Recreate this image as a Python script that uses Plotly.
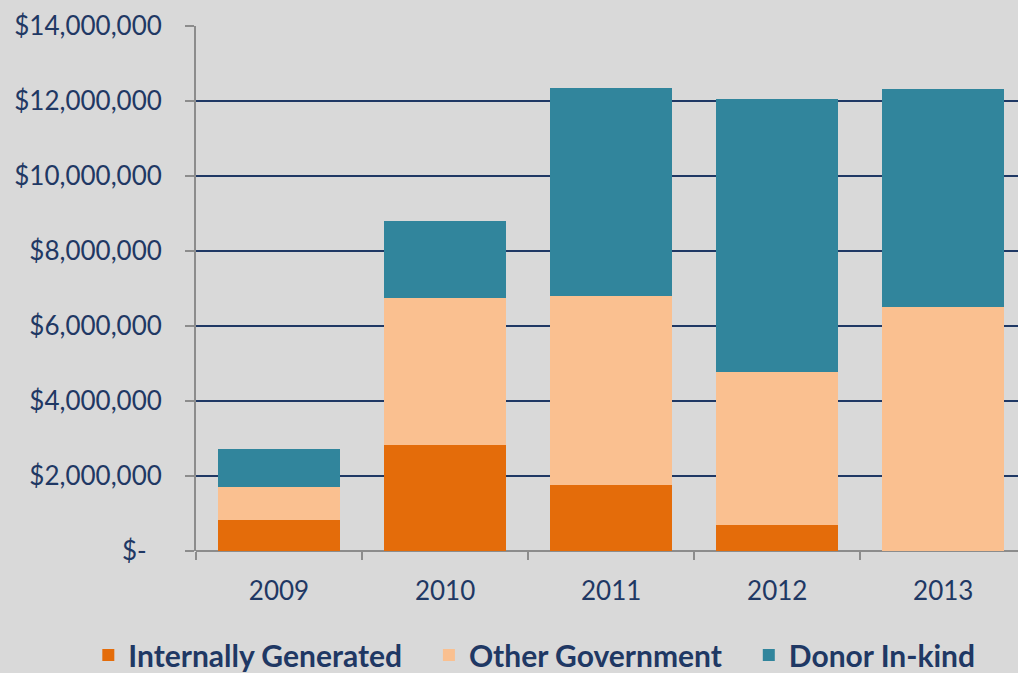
import plotly.graph_objects as go

years = ["2009", "2010", "2011", "2012", "2013"]
internally_generated = [830000, 2830000, 1760000, 690000, 0]
other_government = [880000, 3930000, 5030000, 4090000, 6520000]
donor_in_kind = [1000000, 2030000, 5550000, 7270000, 5800000]

tick_vals = [0, 2000000, 4000000, 6000000, 8000000, 10000000, 12000000, 14000000]
tick_text = ["$-\u2007", "$2,000,000", "$4,000,000", "$6,000,000", "$8,000,000",
             "$10,000,000", "$12,000,000", "$14,000,000"]

navy = "#1F3864"
font_family = "Lato, 'Open Sans', sans-serif"
pad = "\u00a0" * 3

fig = go.Figure()
for name, vals, color in [
    ("Internally Generated" + pad, internally_generated, "#E46C0A"),
    ("Other Government" + pad, other_government, "#FAC090"),
    ("Donor In-kind", donor_in_kind, "#31859C"),
]:
    fig.add_trace(go.Bar(x=years, y=vals, name=name, marker_color=color,
                         marker_line_width=0, width=0.735))

fig.update_layout(
    barmode="stack",
    width=1018, height=673,
    margin=dict(l=196, r=0, t=26, b=122, autoexpand=False),
    paper_bgcolor="#D9D9D9",
    plot_bgcolor="#D9D9D9",
    font=dict(family=font_family, color=navy, size=26),
    legend=dict(orientation="h",
                x=-0.131, xanchor="left", y=-0.198, yanchor="middle",
                font=dict(size=30, color=navy, family=font_family, weight="bold"),
                traceorder="normal", itemwidth=30,
                bgcolor="rgba(0,0,0,0)"),
    bargap=0.265,
)
fig.update_xaxes(
    type="category", range=[-0.5, 4.45], automargin=False,
    tickson="boundaries", ticks="outside", ticklen=8, tickcolor="#8C8C8C", tickwidth=2,
    showline=False, showgrid=False, zeroline=False,
    tickfont=dict(size=26, color=navy, family=font_family),
    ticklabelstandoff=22,
)
fig.update_yaxes(
    range=[0, 14000000], tickvals=tick_vals, ticktext=tick_text, automargin=False,
    ticks="outside", ticklen=9, tickcolor="#8C8C8C", tickwidth=2,
    showline=True, linecolor="#8C8C8C", linewidth=2,
    showgrid=True, gridcolor=navy, gridwidth=2,
    zeroline=True, zerolinecolor="#8C8C8C", zerolinewidth=2,
    tickfont=dict(size=26, color=navy, family=font_family),
    ticklabelstandoff=18,
)
fig.write_html("out.html", config={"displayModeBar": False},
               post_script="document.body.style.margin='0';document.body.style.background='#D9D9D9';document.body.style.overflow='hidden';")
